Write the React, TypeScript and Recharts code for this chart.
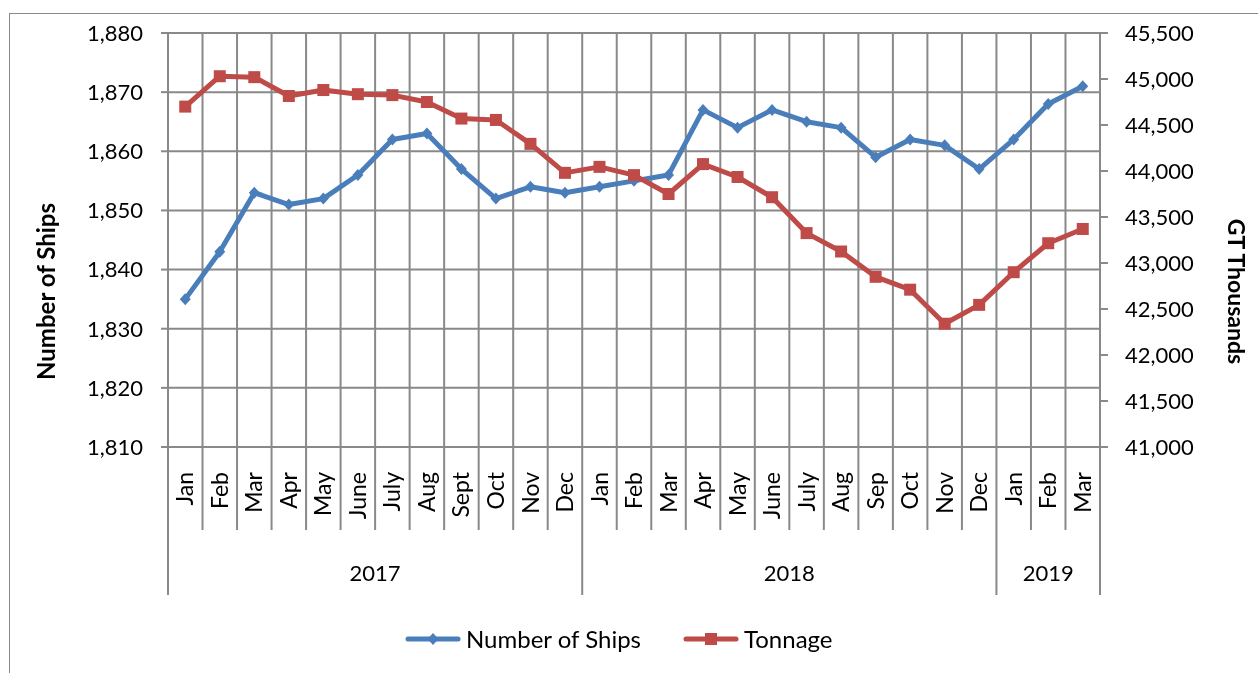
import { LineChart, Line, XAxis, YAxis, CartesianGrid, Legend } from 'recharts';

const months = [
  'Jan', 'Feb', 'Mar', 'Apr', 'May', 'June', 'July', 'Aug', 'Sept', 'Oct', 'Nov', 'Dec',
  'Jan', 'Feb', 'Mar', 'Apr', 'May', 'June', 'July', 'Aug', 'Sep', 'Oct', 'Nov', 'Dec',
  'Jan', 'Feb', 'Mar',
];
const years = [
  '2017', '2017', '2017', '2017', '2017', '2017', '2017', '2017', '2017', '2017', '2017', '2017',
  '2018', '2018', '2018', '2018', '2018', '2018', '2018', '2018', '2018', '2018', '2018', '2018',
  '2019', '2019', '2019',
];
const ships = [
  1835, 1843, 1853, 1851, 1852, 1856, 1862, 1863, 1857, 1852, 1854, 1853,
  1854, 1855, 1856, 1867, 1864, 1867, 1865, 1864, 1859, 1862, 1861, 1857,
  1862, 1868, 1871,
];
const tonnage = [
  44700, 45030, 45020, 44815, 44880, 44835, 44825, 44750, 44570, 44555, 44295, 43980,
  44045, 43955, 43750, 44075, 43935, 43715, 43325, 43125, 42850, 42710, 42340, 42545,
  42900, 43215, 43370,
];
const shipTicks = [1810, 1820, 1830, 1840, 1850, 1860, 1870, 1880];
const tonnageTicks = [41000, 41500, 42000, 42500, 43000, 43500, 44000, 44500, 45000, 45500];

const BLUE = '#4A7EBB';
const RED = '#BE4B48';
const GRID = '#898989';
const FONT = 'Lato, "Open Sans", sans-serif';
const W = 1242;
const H = 657;
const LEFT_W = 160;
const RIGHT_W = 150;
const BAND = (W - LEFT_W - RIGHT_W) / months.length;

const data = months.map((m, i) => ({ month: m, year: years[i], ships: ships[i], tonnage: tonnage[i] }));

const fmt = (v: number) => v.toLocaleString('en-US');

function MonthTick(props: any) {
  const { x, y, payload, index } = props;
  const left = x - BAND / 2;
  const yr = years[index];
  const first = index === 0 || years[index - 1] !== yr;
  const last = index === months.length - 1;
  const count = years.filter(v => v === yr).length;
  return (
    <g>
      <line x1={left} x2={left} y1={y} y2={y + (first ? 148 : 83)} stroke={GRID} strokeWidth={2} />
      {last && <line x1={left + BAND} x2={left + BAND} y1={y} y2={y + 148} stroke={GRID} strokeWidth={2} />}
      <text
        transform={`translate(${x},${y + 25}) rotate(-90)`}
        textAnchor="end"
        dy="0.35em"
        fontSize={23}
        fontFamily={FONT}
        fill="#000"
      >
        {payload.value}
      </text>
      {first && (
        <text x={left + (count * BAND) / 2} y={y + 126} dy="0.35em" textAnchor="middle" fontSize={22} fontFamily={FONT} fill="#000">
          {yr}
        </text>
      )}
    </g>
  );
}

const diamondDot = (p: any) => (
  <path
    key={`d${p.index}`}
    d={`M${p.cx},${p.cy - 6}L${p.cx + 5.5},${p.cy}L${p.cx},${p.cy + 6}L${p.cx - 5.5},${p.cy}Z`}
    fill={BLUE}
  />
);

const squareDot = (p: any) => (
  <rect key={`s${p.index}`} x={p.cx - 6} y={p.cy - 6} width={12} height={12} fill={RED} />
);

function renderLegend(props: any) {
  const items = props.payload || [];
  return (
    <div style={{ display: 'flex', alignItems: 'center', fontFamily: FONT, fontSize: 24, color: '#000' }}>
      {items.map((it: any, i: number) => (
        <div key={it.value} style={{ display: 'flex', alignItems: 'center', marginRight: i === 0 ? 42 : 0 }}>
          <svg width={56} height={20} style={{ marginRight: 5 }}>
            <line x1={3} x2={53} y1={10} y2={10} stroke={it.color} strokeWidth={5} strokeLinecap="round" />
            {it.dataKey === 'ships' ? (
              <path d="M28,4L33.5,10L28,16L22.5,10Z" fill={it.color} />
            ) : (
              <rect x={22} y={4} width={12} height={12} fill={it.color} />
            )}
          </svg>
          <span>{it.value}</span>
        </div>
      ))}
    </div>
  );
}

const leftTitle = () => (
  <text
    transform={`translate(39,${H / 2 - 45}) rotate(-90)`}
    textAnchor="middle"
    dy="0.35em"
    fontSize={24}
    fontWeight="bold"
    fontFamily={FONT}
    fill="#000"
  >
    Number of Ships
  </text>
);

const rightTitle = () => (
  <text
    transform={`translate(${W - 14},${H / 2 - 45}) rotate(90)`}
    textAnchor="middle"
    dy="0.35em"
    fontSize={23}
    fontWeight="bold"
    fontFamily={FONT}
    fill="#000"
  >
    GT Thousands
  </text>
);

export default function App() {
  return (
    <div style={{ position: 'relative', width: W, height: H, overflow: 'hidden', fontFamily: FONT }}>
      <div
        style={{
          position: 'fixed',
          left: 9,
          top: 13,
          width: W + 40,
          height: H + 40,
          borderLeft: '1px solid #8a8a8a',
          borderTop: '1px solid #8a8a8a',
        }}
      />
      <LineChart width={W} height={H} data={data} margin={{ top: 25, right: 0, bottom: 68, left: 0 }}>
        <CartesianGrid
          yAxisId="left"
          stroke={GRID}
          strokeWidth={2}
          verticalCoordinatesGenerator={({ offset }: any) =>
            [...months.map((_, i) => offset.left + (i * offset.width) / months.length), offset.left + offset.width]
          }
        />
        <XAxis
          dataKey="month"
          interval={0}
          height={150}
          padding={{ left: BAND / 2, right: BAND / 2 }}
          tickSize={0}
          tickMargin={0}
          tickLine={false}
          axisLine={{ stroke: GRID, strokeWidth: 2 }}
          tick={<MonthTick />}
        />
        <YAxis
          yAxisId="left"
          domain={[1810, 1880]}
          ticks={shipTicks}
          interval={0}
          width={LEFT_W}
          tickSize={7}
          tickMargin={18}
          tickFormatter={fmt}
          tick={{ fill: '#000', fontSize: 22, fontFamily: FONT }}
          axisLine={{ stroke: GRID, strokeWidth: 2 }}
          tickLine={{ stroke: GRID, strokeWidth: 2 }}
          label={leftTitle}
        />
        <YAxis
          yAxisId="right"
          orientation="right"
          domain={[41000, 45500]}
          ticks={tonnageTicks}
          interval={0}
          width={RIGHT_W}
          tickSize={8}
          tickMargin={17}
          tickFormatter={fmt}
          tick={{ fill: '#000', fontSize: 22, fontFamily: FONT }}
          axisLine={{ stroke: GRID, strokeWidth: 2 }}
          tickLine={{ stroke: GRID, strokeWidth: 2 }}
          label={rightTitle}
        />
        <Legend
          verticalAlign="middle"
          align="center"
          wrapperStyle={{ top: 616, left: 397, width: 'auto' }}
          content={renderLegend}
        />
        <Line
          yAxisId="left"
          dataKey="ships"
          name="Number of Ships"
          stroke={BLUE}
          strokeWidth={5}
          strokeLinejoin="round"
          dot={diamondDot}
          activeDot={false}
          isAnimationActive={false}
        />
        <Line
          yAxisId="right"
          dataKey="tonnage"
          name="Tonnage"
          stroke={RED}
          strokeWidth={5}
          strokeLinejoin="round"
          dot={squareDot}
          activeDot={false}
          isAnimationActive={false}
        />
      </LineChart>
    </div>
  );
}
